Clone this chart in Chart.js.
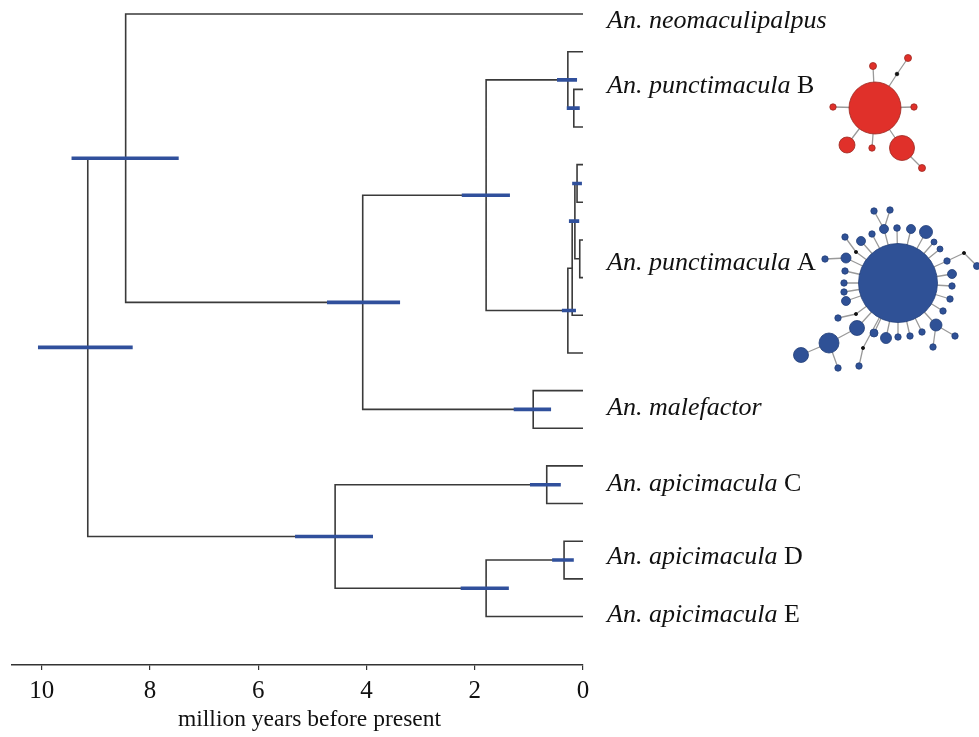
<!DOCTYPE html>
<html><head><meta charset="utf-8">
<script src="https://cdn.jsdelivr.net/npm/chart.js@4/dist/chart.umd.min.js"></script>
<style>html,body{margin:0;padding:0;background:#fff}#wrap{position:relative;width:979px;height:737px}
#c,#n{position:absolute;left:0;top:0}#n{pointer-events:none}</style>
</head><body><div id="wrap"><canvas id="c" width="979" height="737"></canvas><canvas id="n" width="979" height="737"></canvas></div>
<script>
// ---- tips (row = order from top) ----
const tipCount = 17;
// ---- internal nodes ----
const nodeNames  = ['B1','B0','Atop','A3','A2','A1','A0','BA','Mal','BAM','Neo','C','D','DE','CDE','root'];
const nodeAges   = [0.17,0.28,0.11,0.06,0.15,0.20,0.28,1.79,0.92,4.07,8.45,0.67,0.35,1.79,4.58,9.15];
const childA     = ['t2','t1','t4','t6','Atop','A2','A1','B0','t10','BA','t0','t12','t14','D','C','Neo'];
const childB     = ['t3','B1','t5','t7','A3','t8','t9','A0','t11','Mal','BAM','t13','t15','t16','DE','CDE'];
const hpdOld     = [0.30,0.48,0.20,null,0.26,null,0.39,2.24,1.28,4.73,9.45,0.98,0.57,2.26,5.32,10.07];
const hpdYoung   = [0.06,0.11,0.02,null,0.07,null,0.13,1.35,0.59,3.38,7.47,0.41,0.17,1.37,3.88,8.32];
// ---- clade labels ----
const labelItalic = ['An. neomaculipalpus','An. punctimacula','An. punctimacula','An. malefactor','An. apicimacula','An. apicimacula','An. apicimacula'];
const labelSuffix = ['','B','A','','C','D','E'];
const labelRow    = [0.16,1.9,6.6,10.45,12.45,14.4,15.95];
// ---- axis ----
const tickValues = [10,8,6,4,2,0];
const axisTitle = 'million years before present';
// ---- haplotype networks (offsets from hub, node radius, parent) ----
const redHub = [875,108];
const redDX = [0,-2,22,33,-42,39,-28,-3,27,47];
const redDY = [0,-42,-34,-50,-1,-1,37,40,40,60];
const redR  = [26,3.5,1.8,3.5,3.2,3.2,8,3.2,12.5,3.5];
const redParent = [-1,0,0,2,0,0,0,0,0,8];
const blueHub = [898,283];
const blueDX = [0,-14,-24,-8,-1,13,28,36,42,49,66,79,54,54,52,45,38,57,35,24,12,0,-12,-24,-35,-39,-41,-69,-97,-60,-42,-60,-52,-54,-54,-53,-52,-73,-42,-53,-37,-26];
const blueDY = [0,-54,-72,-73,-55,-54,-51,-41,-34,-22,-30,-17,-9,3,16,28,42,53,64,49,53,54,55,50,65,83,45,60,72,85,31,35,18,9,0,-12,-25,-24,-31,-46,-42,-49];
const blueR  = [39.5,4.5,3.2,3.2,3.3,4.5,6.5,3,3,3.2,1.6,3.5,4.5,3.2,3.2,3.2,6,3.2,3.2,3.2,3.2,3.2,5.5,4,1.6,3.2,7.5,10,7.5,3.2,1.6,3.2,4.5,3.2,3.2,3.2,5,3.2,1.6,3.2,4.5,3.2];
const blueParent = [-1,0,1,1,0,0,0,0,0,0,9,10,0,0,0,0,0,16,16,0,0,0,0,0,0,24,0,26,27,27,0,30,0,0,0,0,0,36,0,38,0,0];

// ---- build tree geometry from data ----
const rowOf = {}, ageOf = {};
for (let i = 0; i < tipCount; i++) { rowOf['t'+i] = i; ageOf['t'+i] = 0; }
nodeNames.forEach((n,i) => { ageOf[n] = nodeAges[i]; });
function resolveRow(n){ if (rowOf[n] !== undefined) return rowOf[n]; const i = nodeNames.indexOf(n); rowOf[n] = (resolveRow(childA[i]) + resolveRow(childB[i]))/2; return rowOf[n]; }
nodeNames.forEach(resolveRow);
const treePts = [], hpdPts = [];
nodeNames.forEach((n,i) => {
  const a = childA[i], b = childB[i], t = nodeAges[i];
  treePts.push({x:ageOf[a],y:rowOf[a]},{x:t,y:rowOf[a]},{x:t,y:rowOf[b]},{x:ageOf[b],y:rowOf[b]},{x:null,y:null});
  if (hpdOld[i] !== null) hpdPts.push({x:hpdOld[i],y:rowOf[n]},{x:hpdYoung[i],y:rowOf[n]},{x:null,y:null});
});
function netData(hub, dx, dy, r, parent){
  const nodes = dx.map((d,i)=>({x:hub[0]+d, y:hub[1]+dy[i], r:r[i]}));
  const edges = [];
  parent.forEach((p,i)=>{ if (p>=0) edges.push({x:nodes[p].x,y:nodes[p].y},{x:nodes[i].x,y:nodes[i].y},{x:null,y:null}); });
  return {nodes, edges};
}
const redNet = netData(redHub, redDX, redDY, redR, redParent);
const blueNet = netData(blueHub, blueDX, blueDY, blueR, blueParent);
const redKind = redR.map(r => r < 2 ? 1 : 0);
const blueKind = blueR.map(r => r < 2 ? 1 : 0);

const SERIF = "'Liberation Serif','Times New Roman',serif";
const labelPlugin = {
  id:'cladeLabels',
  afterDatasetsDraw(chart){
    const ctx = chart.ctx, xs = chart.scales.x, ys = chart.scales.y;
    const x0 = xs.getPixelForValue(0) + 24;
    ctx.save();
    ctx.fillStyle = '#111';
    ctx.textBaseline = 'middle';
    labelItalic.forEach((s,i)=>{
      const y = ys.getPixelForValue(labelRow[i]) + 1;
      ctx.font = 'italic 26px ' + SERIF;
      ctx.fillText(s, x0, y);
      if (labelSuffix[i]) {
        const w = ctx.measureText(s + ' ').width;
        ctx.font = '26px ' + SERIF;
        ctx.fillText(labelSuffix[i], x0 + w, y);
      }
    });
    // axis title
    const a = chart.chartArea;
    ctx.font = '23.5px ' + SERIF;
    ctx.textAlign = 'center';
    ctx.fillText(axisTitle, (a.left + a.right)/2 + 12, 720);
    ctx.restore();
  }
};

new Chart(document.getElementById('c'), {
  type:'scatter',
  data:{ datasets:[
    {type:'line', data:hpdPts, borderColor:'#30509c', borderWidth:3.6, pointRadius:0, spanGaps:false, order:0, borderCapStyle:'butt'},
    {type:'line', data:treePts, borderColor:'#3a3a3a', borderWidth:1.6, pointRadius:0, spanGaps:false, order:1}
  ]},
  options:{
    responsive:false, animation:false,
    layout:{autoPadding:false, padding:{left:12, right:396, top:0, bottom:25}},
    plugins:{legend:{display:false}, tooltip:{enabled:false}},
    scales:{
      x:{type:'linear', reverse:true, min:0, max:10.55,
        afterBuildTicks(s){ s.ticks = tickValues.map(v=>({value:v})); },
        grid:{display:true, drawOnChartArea:false, drawTicks:true, tickLength:5, color:'#333', lineWidth:1.2},
        border:{display:true, color:'#333', width:1.6},
        ticks:{color:'#111', font:{family:SERIF, size:25}, padding:6, maxRotation:0, autoSkip:false}
      },
      y:{type:'linear', display:false, reverse:true, min:-14/37.6, max:650/37.6}
    }
  },
  plugins:[labelPlugin]
});

// haplotype networks: second transparent chart over the whole page
new Chart(document.getElementById('n'), {
  type:'bubble',
  data:{ datasets:[
    {type:'bubble', data:redNet.nodes, order:0,
      backgroundColor: redKind.map(k=>k? '#111':'#e0302a'), borderColor: redKind.map(k=>k? '#111':'#9c2a22'), borderWidth:0.8},
    {type:'bubble', data:blueNet.nodes, order:0,
      backgroundColor: blueKind.map(k=>k? '#111':'#2f5196'), borderColor: blueKind.map(k=>k? '#111':'#223f78'), borderWidth:0.8},
    {type:'line', data:redNet.edges, borderColor:'#9a9a9a', borderWidth:1.3, pointRadius:0, spanGaps:false, order:1},
    {type:'line', data:blueNet.edges, borderColor:'#9a9a9a', borderWidth:1.3, pointRadius:0, spanGaps:false, order:1}
  ]},
  options:{
    responsive:false, animation:false,
    layout:{autoPadding:false, padding:0},
    plugins:{legend:{display:false}, tooltip:{enabled:false}},
    scales:{
      x:{type:'linear', display:false, min:0, max:979},
      y:{type:'linear', display:false, reverse:true, min:0, max:737}
    }
  }
});
</script></body></html>
